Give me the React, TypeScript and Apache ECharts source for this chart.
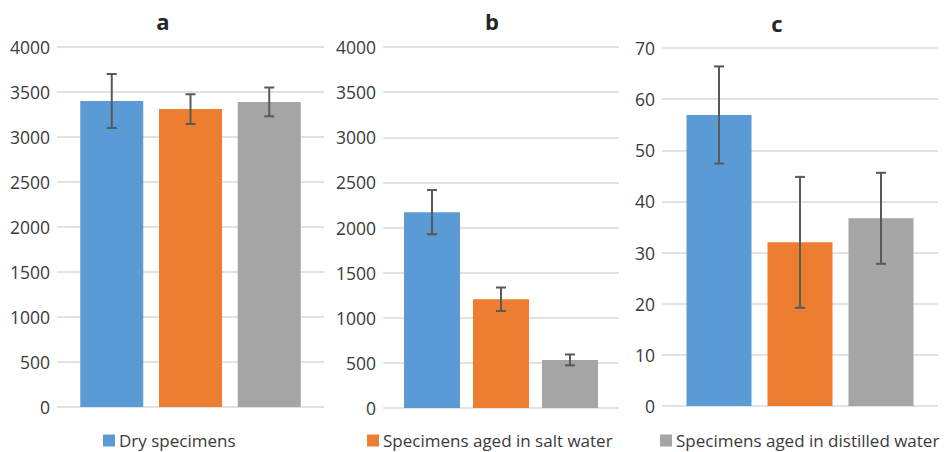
import React, { useEffect, useRef } from "react";
import * as echarts from "echarts";

const seriesNames = [
  "Dry specimens",
  "Specimens aged in salt water",
  "Specimens aged in distilled water",
];
const seriesColors = ["#5B9BD5", "#ED7D31", "#A5A5A5"];
const panelTitles = ["a", "b", "c"];

const panelAValues = [3400, 3310, 3390];
const panelAErrors = [300, 165, 160];
const panelBValues = [2170, 1205, 533];
const panelBErrors = [245, 130, 60];
const panelCValues = [56.9, 32.0, 36.7];
const panelCErrors = [9.5, 12.8, 8.9];

const axisAB = { min: 0, max: 4000, interval: 500 };
const axisC = { min: 0, max: 70, interval: 10 };

const FONT = "'Open Sans', 'Noto Sans', sans-serif";
const TEXT_COLOR = "#3a3a3a";

const panels = [
  {
    values: panelAValues,
    errors: panelAErrors,
    axis: axisAB,
    grid: { left: 57, top: 47, width: 267, height: 360 },
    barWidth: 63,
    gap: 0.25,
    titleX: 163,
    titleY: 21,
    legendLeft: 103,
  },
  {
    values: panelBValues,
    errors: panelBErrors,
    axis: axisAB,
    grid: { left: 383, top: 47, width: 236, height: 361 },
    barWidth: 56,
    gap: 0.232,
    titleX: 492,
    titleY: 21,
    legendLeft: 367,
  },
  {
    values: panelCValues,
    errors: panelCErrors,
    axis: axisC,
    grid: { left: 662, top: 48, width: 276, height: 358 },
    barWidth: 65,
    gap: 0.246,
    titleX: 777,
    titleY: 23,
    legendLeft: 660,
  },
];

export default function App() {
  const ref = useRef<HTMLDivElement>(null);

  useEffect(() => {
    document.body.style.margin = "0";
    if (!ref.current) return;
    const chart = echarts.init(ref.current, null, { renderer: "svg" });

    const grids: any[] = [];
    const xAxes: any[] = [];
    const yAxes: any[] = [];
    const series: any[] = [];
    const legends: any[] = [];
    const graphics: any[] = [];

    panels.forEach((p, pi) => {
      grids.push({ ...p.grid, outerBoundsMode: "none", containLabel: false });
      xAxes.push({
        type: "category",
        gridIndex: pi,
        data: [""],
        axisLine: { show: false },
        axisTick: { show: false },
        axisLabel: { show: false },
      });
      yAxes.push({
        type: "value",
        gridIndex: pi,
        min: p.axis.min,
        max: p.axis.max,
        interval: p.axis.interval,
        axisLine: { show: false },
        axisTick: { show: false },
        axisLabel: {
          color: TEXT_COLOR,
          fontFamily: FONT,
          fontSize: 17.5,
          margin: 7,
          formatter: (v: number) => String(v),
        },
        splitLine: { lineStyle: { color: "#D9D9D9", width: 1.5 } },
      });
      p.values.forEach((v, si) => {
        series.push({
          type: "bar",
          name: seriesNames[si],
          xAxisIndex: pi,
          yAxisIndex: pi,
          data: [v],
          barWidth: p.barWidth,
          barGap: `${p.gap * 100}%`,
          itemStyle: { color: seriesColors[si] },
        });
      });
      const step = p.barWidth * (1 + p.gap);
      series.push({
        type: "custom",
        xAxisIndex: pi,
        yAxisIndex: pi,
        silent: true,
        data: p.values.map((v, si) => [0, v - p.errors[si], v + p.errors[si], si]),
        renderItem: (params: any, api: any) => {
          const lo = api.coord([0, api.value(1)]);
          const hi = api.coord([0, api.value(2)]);
          const x = lo[0] + (api.value(3) - 1) * step;
          const cap = 5;
          const style = { stroke: "#595959", lineWidth: 2 };
          return {
            type: "group",
            children: [
              { type: "line", shape: { x1: x, y1: lo[1], x2: x, y2: hi[1] }, style },
              { type: "line", shape: { x1: x - cap, y1: hi[1], x2: x + cap, y2: hi[1] }, style },
              { type: "line", shape: { x1: x - cap, y1: lo[1], x2: x + cap, y2: lo[1] }, style },
            ],
          };
        },
        z: 10,
      });
      legends.push({
        data: [seriesNames[pi]],
        left: p.legendLeft,
        top: 432,
        padding: 0,
        icon: "rect",
        itemWidth: 12,
        itemHeight: 12,
        itemGap: 4,
        selectedMode: false,
        textStyle: { color: TEXT_COLOR, fontFamily: FONT, fontSize: 17, padding: [0, 0, 0, -1] },
      });
      graphics.push({
        type: "text",
        x: p.titleX,
        y: p.titleY,
        style: {
          text: panelTitles[pi],
          font: `bold 22px ${FONT}`,
          fill: "#262626",
          textAlign: "center",
          textVerticalAlign: "middle",
        },
      });
    });

    chart.setOption({
      animation: false,
      backgroundColor: "#ffffff",
      grid: grids,
      xAxis: xAxes,
      yAxis: yAxes,
      series,
      legend: legends,
      graphic: graphics,
    });

    return () => chart.dispose();
  }, []);

  return <div ref={ref} style={{ width: 949, height: 452 }} />;
}
